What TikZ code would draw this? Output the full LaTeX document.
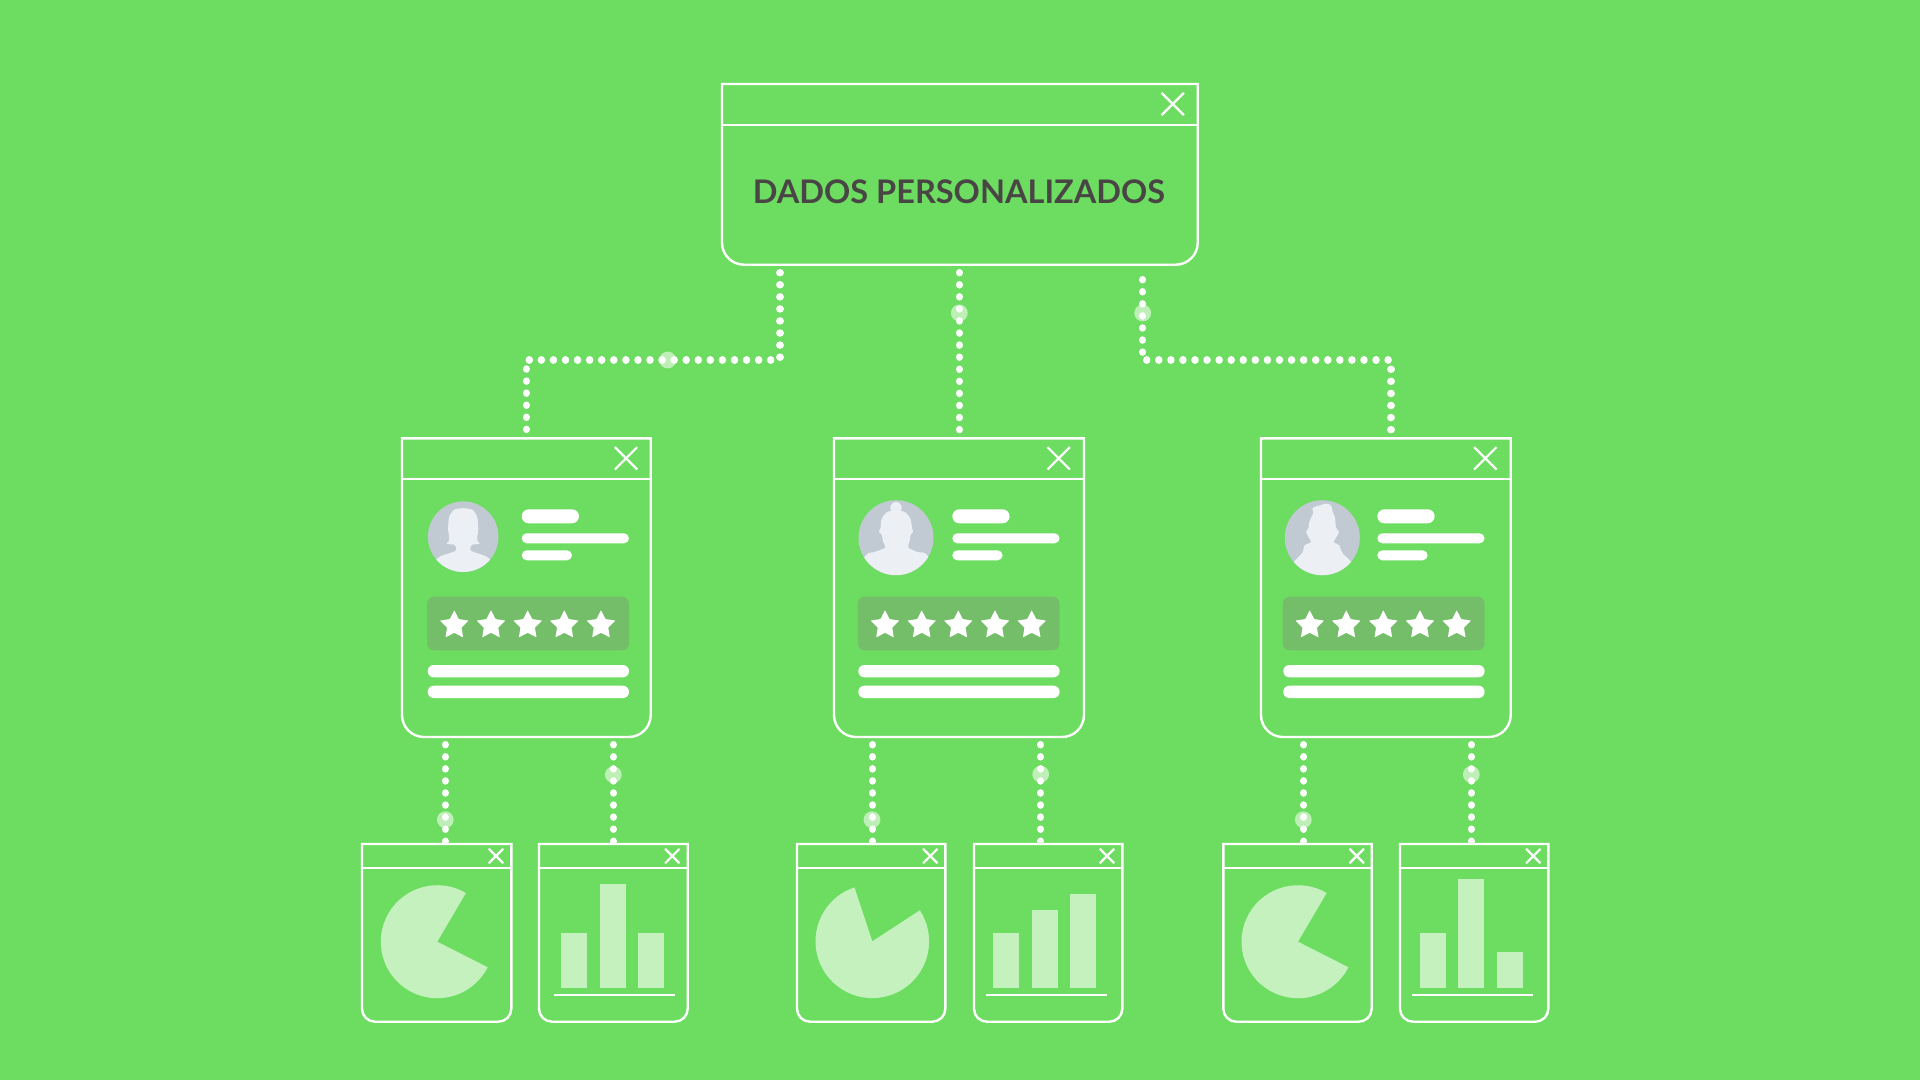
\documentclass[tikz,border=0pt]{standalone}
\usepackage{fontspec}
\newfontfamily\labelfont{Lato}
\definecolor{bggreen}{HTML}{6DDD61}
\definecolor{panelgreen}{HTML}{74BE69}
\definecolor{palegreen}{HTML}{C5F1BF}
\definecolor{avback}{HTML}{C1C9D3}
\definecolor{avfront}{HTML}{ECEFF3}
\definecolor{inkgrey}{HTML}{4A4545}
\tikzset{
  frameline/.style={draw=white,line width=2.4pt,line join=miter},
  winbox/.style={inner sep=0pt,outer sep=0pt,draw=none},
  dotline/.style={draw=white,line width=7.5pt,line cap=round,dash pattern=on 0.01pt off 12.06pt},
  halo/.style={circle,fill=white,fill opacity=.55,draw=none,inner sep=0pt,minimum size=16.8pt},
  chart/.style={fill=palegreen,draw=none},
  pill/.style={fill=white,draw=none},
  stargl/.style={fill=white,draw=none,rounded corners=.5pt},
  baseline rule/.style={draw=white,line width=1.9pt},
}
% name, left, top, right, bottom, title y, radius, X cx, X cy, X half
\newcommand{\mywin}[9]{%
  \pgfmathsetmacro{\wcx}{(#2+#4)/2}\pgfmathsetmacro{\wcy}{(#3+#5)/2}%
  \pgfmathsetmacro{\ww}{#4-#2}\pgfmathsetmacro{\wh}{#5-#3}%
  \node[winbox,minimum width=\ww pt,minimum height=\wh pt] (#1) at (\wcx,\wcy) {};%
  \draw[frameline] (#1.north west) -- ([yshift=#7pt]#1.south west)
     arc[start angle=180,end angle=270,radius=#7pt]
     -- ([xshift=-#7pt]#1.south east)
     arc[start angle=270,end angle=360,radius=#7pt]
     -- (#1.north east) -- cycle;%
  \draw[frameline] (#2,#6) -- (#4,#6);%
  \mywinx{#8}{#9}%
}
\newcommand{\mywinx}[2]{\mywinxb#1,#2,}
\def\mywinxb#1,#2,#3,{%
  \draw[draw=white,line width=2.2pt] (#1,#2) +(-#3,-#3) -- +(#3,#3) (#1,#2) +(#3,-#3) -- +(-#3,#3);}
\newcommand{\mystars}[6]{%
  \foreach \sx in {#1,#2,#3,#4,#5}{%
    \begin{scope}[shift={(\sx,#6)}]
      \fill[stargl] (90:15pt) -- (126:7.6pt) -- (162:15pt) -- (198:7.6pt) -- (234:15pt)
        -- (270:7.6pt) -- (306:15pt) -- (342:7.6pt) -- (18:15pt) -- (54:7.6pt) -- cycle;
    \end{scope}}%
}
% content of a review card: panel left, bars left
\newcommand{\mycontent}[2]{%
  \pgfmathsetmacro{\pa}{#1+201.3}\pgfmathsetmacro{\qa}{#2+57.3}\pgfmathsetmacro{\qb}{#2+107.3}\pgfmathsetmacro{\qc}{#2+50.3}%
  \fill[panelgreen,rounded corners=7pt] (#1-.6,596.7) rectangle (\pa,650.3);%
  \fill[pill,rounded corners=6pt] (#1,665) rectangle (\pa,677.3);%
  \fill[pill,rounded corners=6pt] (#1,685.7) rectangle (\pa,698);%
  \fill[pill,rounded corners=7pt] (#2,509.3) rectangle (\qa,523.3);%
  \fill[pill,rounded corners=5pt] (#2,533.3) rectangle (\qb,543.3);%
  \fill[pill,rounded corners=5pt] (#2,550.3) rectangle (\qc,560.3);%
}
\begin{document}
\begin{tikzpicture}[x=1pt,y=-1pt]
\useasboundingbox (0,0) rectangle (1920,1079.7);
\fill[bggreen] (-5,-5) rectangle (1925,1085);

% windows
\mywin{top}{722}{84}{1197.7}{264.7}{125}{22}{1172.7,104}{11.2}
\mywin{cardA}{402}{438.3}{650.7}{737}{479}{22}{626,458.3}{11.2}
\mywin{cardB}{834}{438.3}{1084}{737}{479}{22}{1058.7,458.3}{11.2}
\mywin{cardC}{1261}{438.3}{1510.7}{737}{479}{22}{1485.3,458.3}{11.2}
\mywin{pieA}{362}{844}{511.3}{1021.7}{867.7}{13}{496,856}{7.2}
\mywin{barA}{539}{844}{687.7}{1021.7}{867.7}{13}{672.3,856}{7.2}
\mywin{pieB}{797}{844}{945.3}{1021.7}{867.7}{13}{930.3,856}{7.2}
\mywin{barB}{974}{844}{1122.3}{1021.7}{867.7}{13}{1107,856}{7.2}
\mywin{pieC}{1223.3}{844}{1371.7}{1021.7}{867.7}{13}{1356.7,856}{7.2}
\mywin{barC}{1400}{844}{1548.3}{1021.7}{867.7}{13}{1533.3,856}{7.2}

\node[text=inkgrey,anchor=base,inner sep=0pt] (title) at (959,203.6) {\labelfont\bfseries\fontsize{32.5}{32.5}\selectfont DADOS PERSONALIZADOS};

% connectors
\coordinate (la) at (780,272.7);   \coordinate (lb) at (780,358);
\coordinate (lc) at (770.7,360);   \coordinate (ld) at (529,360);
\coordinate (le) at (526.3,369);   \coordinate (lf) at (526.3,430);
\draw[dotline] (la) -- (lb) (lc) -- (ld) (le) -- (lf);
\coordinate (ma) at (959.3,272.7); \coordinate (mb) at (959.3,430);
\draw[dotline] (ma) -- (mb);
\coordinate (ra) at (1142.7,279.7);\coordinate (rb) at (1142.7,353);
\coordinate (rc) at (1146.7,360);  \coordinate (rd) at (1389,360);
\coordinate (re) at (1391,369.3);  \coordinate (rf) at (1391,430);
\draw[dotline] (ra) -- (rb) (rc) -- (rd) (re) -- (rf);
\foreach \n/\xx in {a/445.3,b/613.3,c/872.7,d/1040.7,e/1303.7,f/1471.3}{
  \coordinate (s\n1) at (\xx,744.7);
  \coordinate (s\n2) at (\xx,841.5);
  \draw[dotline] (s\n1) -- (s\n2);
}
% halos
\node[halo] (h1) at (667.7,360) {};
\node[halo] (h2) at (959.3,313) {};
\node[halo] (h3) at (1142.7,313) {};
\node[halo] (h4) at (445.3,819.7) {};
\node[halo] (h5) at (613.3,774.7) {};
\node[halo] (h6) at (872,819.7) {};
\node[halo] (h7) at (1040.7,774.2) {};
\node[halo] (h8) at (1303.3,819.7) {};
\node[halo] (h9) at (1471.3,774.4) {};

% card contents
\mycontent{427.7}{521.7}
\mycontent{858.3}{952.3}
\mycontent{1283.3}{1377.3}
\mystars{454.3}{491}{527.7}{564.3}{601}{625.2}
\mystars{885}{921.7}{958.3}{995}{1031.7}{625.2}
\mystars{1309.7}{1346.3}{1383.3}{1420}{1456.7}{625.2}

% avatars
\begin{scope}[shift={(463.2,536.7)}]
  \fill[avback] (0,0) circle[radius=35.3pt];
  \clip (0,0) circle[radius=35.3pt];
  \fill[avfront] plot[smooth cycle,tension=.45] coordinates {
    (0,-28.5) (-9,-27) (-14,-20) (-15,-11) (-15,-6) (-14,1) (-14.5,4.5) (-16.5,7) (-9,8)
    (-7.5,10) (-7.5,14) (-14,16.5) (-26,22) (-40,45) (40,45) (26,22) (14,16.5) (7.5,14) (7.5,10)
    (9,8) (16.5,7) (14.5,4.5) (14,1) (15,-6) (15,-11) (14,-20) (9,-27)};
\end{scope}
\begin{scope}[shift={(896,537.7)}]
  \fill[avback] (0,0) circle[radius=37.5pt];
  \clip (0,0) circle[radius=37.5pt];
  \fill[avfront] (0,-30) circle[radius=5.7pt];
  \fill[avfront] plot[smooth cycle,tension=.45] coordinates {
    (0,-27.5) (-9,-25.5) (-14.3,-19) (-15.5,-10) (-17,-6) (-14.3,-3) (-13,4) (-11,10)
    (-22,14.5) (-30,17.5) (-45,45) (45,45) (30.7,17) (22,14.5) (12.3,10) (13.5,4)
    (14.8,-3) (17,-6) (16,-10) (14.5,-19) (9,-25.5)};
\end{scope}
\begin{scope}[shift={(1322.3,537.7)}]
  \fill[avback] (0,0) circle[radius=37.5pt];
  \clip (0,0) circle[radius=37.5pt];
  \fill[avfront] plot[smooth cycle,tension=.45] coordinates {
    (-7.3,-31) (-2,-32.5) (2.7,-34) (8,-33) (10,-29) (10.3,-26) (12.7,-20) (13.7,-10) (16.7,-6)
    (14.3,-1) (11.5,4.5) (17,7.5) (20,15) (27.7,23) (45,45) (-45,45) (-27.3,23)
    (-20,15) (-17.5,7.5) (-11.5,4.5) (-14,-1) (-16.3,-6) (-13.7,-10) (-13,-16) (-9,-25) (-10,-29)};
\end{scope}

% pies
\begin{scope}[shift={(437.3,941.7)}]
  \fill[chart] (0,0) -- (59.6:56.5pt) arc[start angle=59.6,end angle=333.1,radius=56.5pt] -- cycle;
\end{scope}
\begin{scope}[shift={(872.3,941.3)}]
  \fill[chart] (0,0) -- (108.3:56.8pt) arc[start angle=108.3,end angle=393.1,radius=56.8pt] -- cycle;
\end{scope}
\begin{scope}[shift={(1298,941.7)}]
  \fill[chart] (0,0) -- (59.6:56.5pt) arc[start angle=59.6,end angle=333.1,radius=56.5pt] -- cycle;
\end{scope}

% bar charts
\fill[chart] (561.3,933) rectangle (587,987.7);
\fill[chart] (600,883.7) rectangle (625.7,987.7);
\fill[chart] (638.3,933.3) rectangle (664,987.7);
\draw[baseline rule] (554.3,994.7) -- (675.3,994.7);
\fill[chart] (993.3,933) rectangle (1019,987.7);
\fill[chart] (1032,910) rectangle (1057.7,987.7);
\fill[chart] (1070.3,893.7) rectangle (1096,987.7);
\draw[baseline rule] (986,994.7) -- (1107,994.7);
\fill[chart] (1419.7,933) rectangle (1445.7,987.7);
\fill[chart] (1458,878.7) rectangle (1484,987.7);
\fill[chart] (1496.7,951.7) rectangle (1522.7,987.7);
\draw[baseline rule] (1412,994.7) -- (1533.3,994.7);
\end{tikzpicture}
\end{document}
